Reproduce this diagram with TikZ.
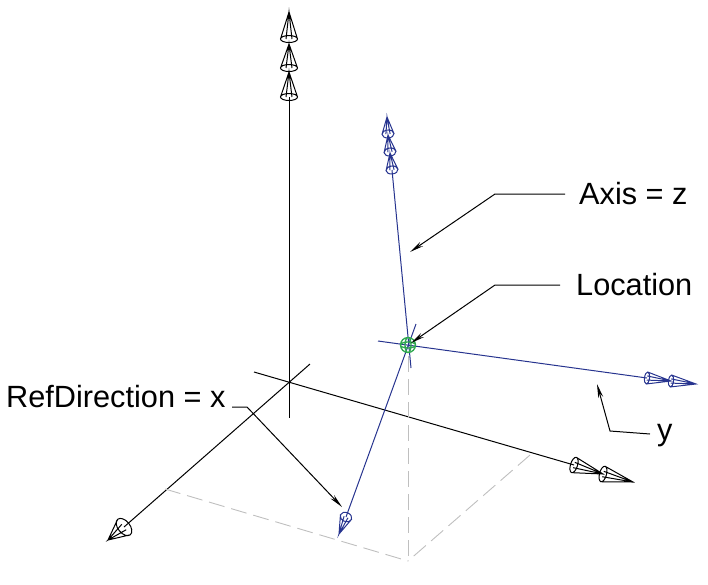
\documentclass[tikz,border=0pt]{standalone}
\usepackage{fontspec}
\setmainfont{Liberation Sans}
\usetikzlibrary{positioning,arrows.meta,calc}
\definecolor{axisblue}{HTML}{27348F}
\definecolor{spheregreen}{HTML}{2FA84F}
\newcommand{\conetip}[5]{% colour, base, apex, rim radius, minor radius
  \draw[conetip, #1] let \p1=($(#3)-(#2)$), \n1={atan2(\y1,\x1)} in
    (#2) circle[x radius=#5pt, y radius=#4pt, rotate=\n1]
    ($(#2)!#4pt!90:(#3)$) -- (#3) -- ($(#2)!#4pt!-90:(#3)$)
    ($(#2)!0.35*#4pt!90:(#3)$) -- (#3) -- ($(#2)!0.35*#4pt!-90:(#3)$);
}

\begin{document}
\begin{tikzpicture}[
  x=1pt, y=-1pt,
  axisline/.style={line width=1pt},
  conetip/.style={line width=1pt},
  ghost/.style={gray!50, dash pattern=on 16pt off 7pt, line width=0.9pt},
  leader/.style={-{Stealth[length=14pt, width=5pt]}, line width=1pt},
  callout/.style={font=\fontsize{30.7}{33}\selectfont, inner sep=0pt}
]
\useasboundingbox (0,0) rectangle (708,584);
% world axes
\coordinate (wztop) at (289.5,97);
\coordinate (wzend) at (289.5,418);
\coordinate (wxtop) at (310,364);
\coordinate (wxbase) at (124,527);
\coordinate (wystart) at (254,372);
\coordinate (wybase) at (574,465);
\draw[axisline] (wztop) -- (wzend);
\draw[axisline] (wxtop) -- (wxbase);
\draw[axisline] (wystart) -- (wybase);
% local axes
\coordinate (lzbase) at (392,170);
\coordinate (lzend) at (411,368);
\coordinate (lystart) at (378,341);
\coordinate (lybase) at (647,378);
\coordinate (lxstart) at (416,324);
\coordinate (lxbase) at (346,517);
\draw[axisline, axisblue] (lzbase) -- (lzend);
\draw[axisline, axisblue] (lystart) -- (lybase);
\draw[axisline, axisblue] (lxstart) -- (lxbase);
% projection
\coordinate (pleft) at (165,489);
\coordinate (pfoot) at (408,561);
\coordinate (pright) at (530,455);
\coordinate (pdrop) at (408,356);
\draw[ghost] (pleft) -- (pfoot);
\draw[ghost] (pright) -- (pfoot);
\draw[ghost] (pdrop) -- (pfoot);
% cones
\foreach \bx/\by/\ax/\ay in {289/97/289/72, 289/68/289/44, 289/39/289/12}
  \conetip{black}{\bx,\by}{\ax,\ay}{8.5}{3.5};
\conetip{black}{124,527}{108,540}{10}{6}
\foreach \bx/\by/\ax/\ay in {574/465/603/474, 603/474/633/482}
  \conetip{black}{\bx,\by}{\ax,\ay}{8}{3.5};
\foreach \bx/\by/\ax/\ay in {392/170/390/153, 390/152/388/135, 388/134/387/117}
  \conetip{axisblue}{\bx,\by}{\ax,\ay}{6}{4};
\foreach \bx/\by/\ax/\ay in {647/378/671/381, 671/381/696/384}
  \conetip{axisblue}{\bx,\by}{\ax,\ay}{6}{2.5};
\conetip{axisblue}{346,517}{339,534}{6}{4.5}
% location
\coordinate (origin) at (408,345);
\draw[spheregreen, line width=1.3pt] (origin) circle[radius=7.5pt]
  (origin) circle[x radius=7.5pt, y radius=3pt]
  (origin) circle[x radius=3pt, y radius=7.5pt];
% labels
\node[callout, anchor=west] (axislabel) at (579,194) {Axis = z};
\node[callout, anchor=west] (locationlabel) at (576,285) {Location};
\node[callout, anchor=west] (refdirlabel) at (6,397) {RefDirection = x};
\node[callout, anchor=west] (ylabel) at (657,436) {y};
\coordinate (axistip) at (410,252);
\coordinate (locationtip) at (411,343);
\coordinate (refdirtip) at (342,507);
\coordinate (ytip) at (597,384);
\draw[leader] ($(axislabel.west)+(-14,0)$) -- (495,194) -- (axistip);
\draw[leader] ($(locationlabel.west)+(-16,0)$) -- (495,285) -- (locationtip);
\draw[leader] (232,407) -- (247,407) -- (refdirtip);
\draw[leader] ($(ylabel.west)+(-7,-2)$) -- (610,431) -- (ytip);
\end{tikzpicture}
\end{document}
